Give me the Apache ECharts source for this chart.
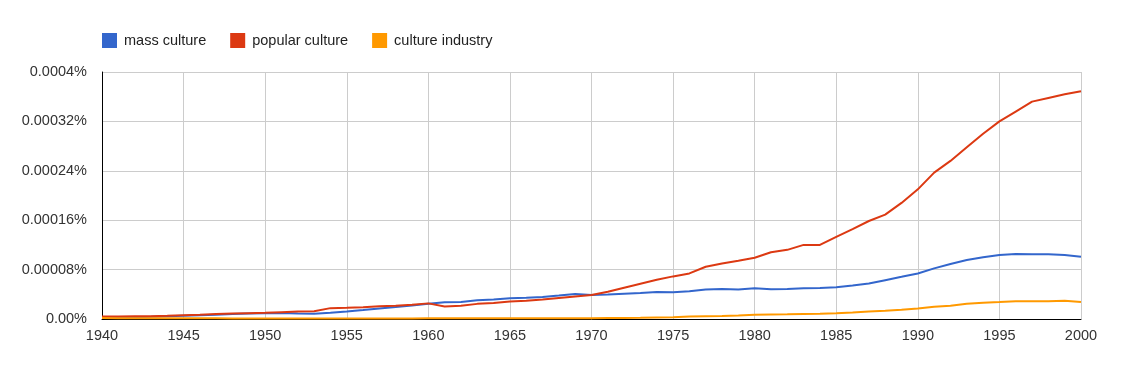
<!DOCTYPE html>
<html>
<head>
<meta charset="utf-8">
<script src="https://cdn.jsdelivr.net/npm/echarts@6/dist/echarts.min.js"></script>
<style>
html,body{margin:0;padding:0;background:#fff;}
#chart{width:1145px;height:391px;}
</style>
</head>
<body>
<div id="chart"></div>
<script>
const years = [];
for (let y = 1940; y <= 2000; y++) years.push(y);

const seriesNames = ["mass culture", "popular culture", "culture industry"];

// values in percent
const massCulture = [
  2.0e-6, 2.5e-6, 3.0e-6, 3.6e-6, 4.3e-6, 5.2e-6, 6.0e-6, 7.0e-6, 8.0e-6, 8.8e-6,
  9.5e-6, 9.8e-6, 9.0e-6, 8.5e-6, 10.0e-6, 12.2e-6, 14.5e-6, 17.1e-6, 19.5e-6, 22.0e-6,
  24.8e-6, 27.0e-6, 27.4e-6, 30.2e-6, 31.5e-6, 33.5e-6, 34.5e-6, 35.6e-6, 38.0e-6, 40.5e-6,
  39.0e-6, 39.5e-6, 41.0e-6, 42.0e-6, 43.8e-6, 43.3e-6, 44.9e-6, 47.7e-6, 48.7e-6, 47.7e-6,
  49.8e-6, 48.2e-6, 48.7e-6, 49.8e-6, 50.3e-6, 51.4e-6, 54.2e-6, 57.5e-6, 62.9e-6, 68.3e-6,
  73.8e-6, 82.0e-6, 89.0e-6, 95.5e-6, 100.0e-6, 103.7e-6, 105.3e-6, 105.0e-6, 105.0e-6, 103.7e-6,
  101.0e-6
];

const popularCulture = [
  4.1e-6, 4.2e-6, 4.4e-6, 4.6e-6, 5.2e-6, 6.2e-6, 7.0e-6, 8.0e-6, 8.8e-6, 9.5e-6,
  10.0e-6, 11.0e-6, 12.0e-6, 12.7e-6, 17.6e-6, 18.3e-6, 19.2e-6, 20.5e-6, 21.5e-6, 23.0e-6,
  25.3e-6, 20.4e-6, 21.5e-6, 24.5e-6, 25.8e-6, 28.2e-6, 29.5e-6, 31.5e-6, 34.0e-6, 36.5e-6,
  39.0e-6, 44.0e-6, 50.5e-6, 57.0e-6, 63.5e-6, 69.0e-6, 73.8e-6, 84.6e-6, 90.0e-6, 94.4e-6,
  99.3e-6, 108.1e-6, 112.0e-6, 120.0e-6, 120.0e-6, 133.0e-6, 145.7e-6, 158.7e-6, 169.0e-6, 188.0e-6,
  210.0e-6, 237.0e-6, 256.0e-6, 278.0e-6, 300.0e-6, 320.0e-6, 336.0e-6, 352.0e-6, 358.0e-6, 364.0e-6,
  369.0e-6
];

const cultureIndustry = [
  1.5e-6, 1.4e-6, 1.3e-6, 1.3e-6, 1.2e-6, 1.2e-6, 1.1e-6, 1.1e-6, 1.0e-6, 1.0e-6,
  1.0e-6, 1.0e-6, 1.0e-6, 1.0e-6, 1.0e-6, 1.0e-6, 1.0e-6, 1.0e-6, 1.0e-6, 1.0e-6,
  1.1e-6, 1.1e-6, 1.1e-6, 1.1e-6, 1.2e-6, 1.2e-6, 1.2e-6, 1.2e-6, 1.2e-6, 1.3e-6,
  1.3e-6, 1.5e-6, 1.7e-6, 2.0e-6, 2.5e-6, 3.0e-6, 4.0e-6, 4.5e-6, 5.0e-6, 5.8e-6,
  6.9e-6, 7.3e-6, 7.6e-6, 8.0e-6, 8.5e-6, 9.5e-6, 10.6e-6, 12.2e-6, 13.4e-6, 15.0e-6,
  17.1e-6, 20.0e-6, 21.5e-6, 24.8e-6, 26.5e-6, 27.4e-6, 28.6e-6, 28.6e-6, 28.6e-6, 29.7e-6,
  27.4e-6
];

const yTicks = [0, 0.00008, 0.00016, 0.00024, 0.00032, 0.0004];
const yTickLabels = ["0.00%", "0.00008%", "0.00016%", "0.00024%", "0.00032%", "0.0004%"];

const colors = ["#3366cc", "#dc3912", "#ff9900"];
const allValues = [massCulture, popularCulture, cultureIndustry];

const chart = echarts.init(document.getElementById('chart'), null, {renderer: 'canvas'});
const font = 'Arial, "Liberation Sans", Helvetica, sans-serif';

chart.setOption({
  animation: false,
  color: colors,
  textStyle: {fontFamily: font},
  legend: {
    left: 97,
    top: 28,
    icon: 'rect',
    itemWidth: 15,
    itemHeight: 15,
    itemGap: 24,
    textStyle: {fontSize: 14.5, color: '#222', fontFamily: font, padding: [0, 0, 0, 2]},
    data: seriesNames
  },
  grid: {left: 102, right: 64, top: 72, bottom: 72, containLabel: false},
  xAxis: {
    type: 'value',
    min: 1940,
    max: 2000,
    interval: 5,
    axisLine: {show: true, onZero: false, lineStyle: {color: '#000', width: 1}},
    axisTick: {show: false},
    axisLabel: {color: '#333', fontSize: 14.5, margin: 9, fontFamily: font, formatter: v => String(v)},
    splitLine: {show: true, lineStyle: {color: '#cccccc', width: 1}}
  },
  yAxis: {
    type: 'value',
    min: 0,
    max: 0.0004,
    interval: 0.00008,
    axisLine: {show: true, lineStyle: {color: '#000', width: 1}},
    axisTick: {show: false},
    axisLabel: {
      color: '#333', fontSize: 14.5, margin: 15, fontFamily: font,
      formatter: function (v) {
        let best = 0, d = Infinity;
        yTicks.forEach((t, i) => { const dd = Math.abs(t - v); if (dd < d) { d = dd; best = i; } });
        return yTickLabels[best];
      }
    },
    splitLine: {show: true, lineStyle: {color: '#cccccc', width: 1}}
  },
  series: seriesNames.map((name, i) => ({
    name: name,
    type: 'line',
    showSymbol: false,
    symbol: 'none',
    lineStyle: {width: 2, color: colors[i]},
    itemStyle: {color: colors[i]},
    data: years.map((y, j) => [y, allValues[i][j]])
  }))
});
</script>
</body>
</html>
